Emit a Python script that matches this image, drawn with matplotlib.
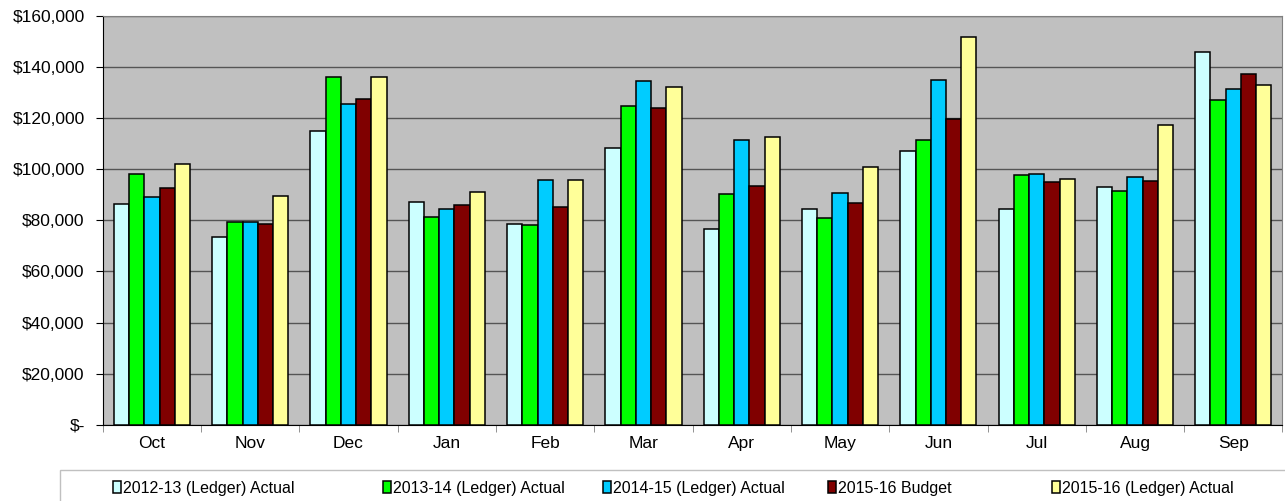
import matplotlib.pyplot as plt
import numpy as np
from matplotlib.patches import Rectangle
from matplotlib.ticker import FuncFormatter, FixedLocator

plt.rcParams['font.family'] = ['Liberation Sans', 'DejaVu Sans']

# ---------------------------------------------------------------------------
# Data (values in dollars)
# ---------------------------------------------------------------------------
months = ['Oct', 'Nov', 'Dec', 'Jan', 'Feb', 'Mar',
          'Apr', 'May', 'Jun', 'Jul', 'Aug', 'Sep']

actual_1213 = [86400, 73600, 114700, 87200, 78500, 108200,
               76400, 84200, 107000, 84500, 92800, 145700]
actual_1314 = [98000, 79400, 135900, 81400, 78000, 124600,
               90200, 81000, 111300, 97700, 91500, 126800]
actual_1415 = [89200, 79400, 125500, 84500, 95600, 134500,
               111200, 90600, 134900, 98000, 96900, 131100]
budget_1516 = [92700, 78600, 127500, 85800, 85200, 124000,
               93500, 86600, 119400, 94800, 95300, 137100]
actual_1516 = [102100, 89500, 135900, 90900, 95600, 131900,
               112400, 100800, 151800, 96100, 117200, 132800]

series_names = ['2012-13 (Ledger) Actual', '2013-14 (Ledger) Actual',
                '2014-15 (Ledger) Actual', '2015-16 Budget',
                '2015-16 (Ledger) Actual']
series_values = [actual_1213, actual_1314, actual_1415, budget_1516, actual_1516]
series_colors = ['#CCFFFF', '#00FF00', '#00CCFF', '#800000', '#FFFF99']

# ---------------------------------------------------------------------------
# Figure
# ---------------------------------------------------------------------------
fig = plt.figure(figsize=(12.85, 5.01), dpi=100)
ax = fig.add_axes([0.080, 0.152, 0.918, 0.817])
ax.set_facecolor('#C0C0C0')

x = np.arange(len(months))
width = 0.155
bars = []
for i, (vals, col) in enumerate(zip(series_values, series_colors)):
    b = ax.bar(x + (i - 2) * width, vals, width, color=col,
               edgecolor='black', linewidth=1.1, zorder=3)
    bars.append(b)

ax.set_xlim(-0.5, len(months) - 0.5)
ax.set_ylim(0, 160000)
ax.set_yticks(np.arange(0, 160001, 20000))
ax.yaxis.set_major_formatter(
    FuncFormatter(lambda v, _: '$-' if v == 0 else f'${v:,.0f}'))
ax.grid(axis='y', color='#555555', linewidth=1, zorder=1)

ax.set_xticks(x)
ax.set_xticklabels(months)
ax.xaxis.set_minor_locator(FixedLocator(np.arange(-0.5, len(months), 1.0)))
ax.tick_params(axis='x', which='major', length=0, labelsize=12.5, pad=8)
ax.tick_params(axis='x', which='minor', length=5, color='#808080')
ax.tick_params(axis='y', length=5, labelsize=12.5, pad=8, color='black')

for side in ['top', 'right']:
    ax.spines[side].set_color('#808080')
ax.spines['left'].set_color('black')
ax.spines['bottom'].set_color('black')

# legend box along the bottom
fig.patches.append(Rectangle((60 / 1285, -0.01), 1.0, (501 - 470) / 501 + 0.01,
                             transform=fig.transFigure, fill=False,
                             edgecolor='#C0C0C0', linewidth=1))

legend_x = [113, 383, 603, 828, 1052]
for b, name, lx in zip(bars, series_names, legend_x):
    fig.legend(handles=[b], labels=[name], loc='center left',
               bbox_to_anchor=(lx / 1285, 1 - 488 / 501), frameon=False,
               handlelength=0.5, handleheight=0.7, handletextpad=0.1,
               borderpad=0, borderaxespad=0,
               prop={'family': ['Liberation Sans Narrow', 'Liberation Sans'],
                     'size': 11.5})

fig.savefig('out.png', dpi=100)
